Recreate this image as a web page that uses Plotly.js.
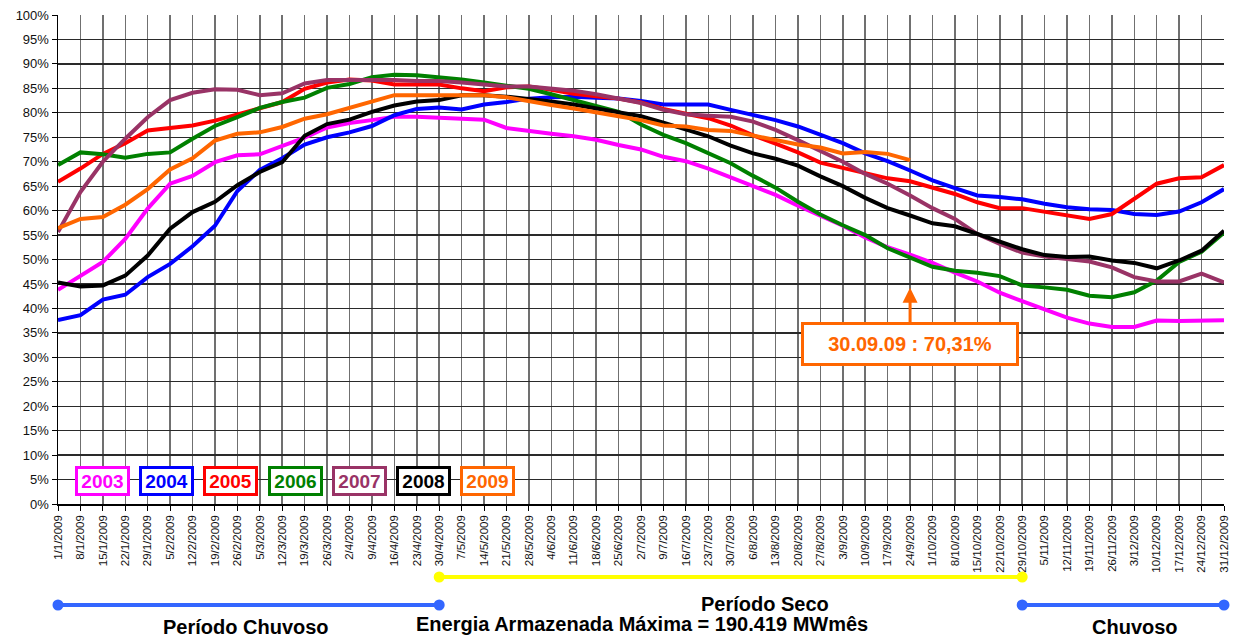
<!DOCTYPE html>
<html>
<head>
<meta charset="utf-8">
<script src="https://cdn.plot.ly/plotly-3.0.1.min.js"></script>
<style>
  html, body { margin: 0; padding: 0; background: #ffffff; }
  #chart { width: 1240px; height: 639px; }
</style>
</head>
<body>
<div id="chart"></div>
<script>
// Weekly dates of 2009 (x categories)
const weeks = [
  '1/1/2009','8/1/2009','15/1/2009','22/1/2009','29/1/2009','5/2/2009','12/2/2009','19/2/2009','26/2/2009',
  '5/3/2009','12/3/2009','19/3/2009','26/3/2009','2/4/2009','9/4/2009','16/4/2009','23/4/2009','30/4/2009',
  '7/5/2009','14/5/2009','21/5/2009','28/5/2009','4/6/2009','11/6/2009','18/6/2009','25/6/2009','2/7/2009',
  '9/7/2009','16/7/2009','23/7/2009','30/7/2009','6/8/2009','13/8/2009','20/8/2009','27/8/2009','3/9/2009',
  '10/9/2009','17/9/2009','24/9/2009','1/10/2009','8/10/2009','15/10/2009','22/10/2009','29/10/2009','5/11/2009',
  '12/11/2009','19/11/2009','26/11/2009','3/12/2009','10/12/2009','17/12/2009','24/12/2009','31/12/2009'
];

// Stored energy (% of maximum) per year
const y2003 = [43.8,46.7,49.5,54.2,60.4,65.5,67.1,69.9,71.3,71.5,73.3,74.9,77.0,77.9,78.5,79.2,79.2,79.0,78.8,78.6,
  76.9,76.2,75.7,75.2,74.5,73.4,72.5,71.0,70.1,68.6,66.8,65.1,63.2,61.0,59.0,56.9,54.5,52.5,51.0,49.3,
  47.3,45.5,43.2,41.5,39.9,38.1,36.9,36.2,36.2,37.5,37.4,37.4,37.6];
const y2004 = [37.6,38.6,41.8,42.8,46.4,49.1,52.7,56.9,64.0,68.3,70.7,73.5,75.0,76.0,77.3,79.5,80.8,81.1,80.7,81.7,
  82.2,82.9,83.2,83.3,83.1,82.9,82.4,81.7,81.7,81.7,80.6,79.6,78.5,77.2,75.6,73.8,71.7,70.1,68.2,66.2,
  64.6,63.1,62.8,62.3,61.4,60.7,60.3,60.1,59.3,59.1,59.8,61.7,64.4];
const y2005 = [65.9,68.6,71.6,73.8,76.4,77.0,77.4,78.4,79.6,81.0,82.2,84.9,86.2,86.8,86.6,85.8,85.7,85.8,85.0,84.4,
  85.2,85.4,84.7,83.9,83.4,82.9,82.1,80.8,79.8,78.9,77.4,75.4,73.7,71.9,69.8,68.7,67.7,66.6,66.0,64.7,
  63.4,61.7,60.5,60.5,59.8,59.0,58.3,59.3,62.4,65.5,66.6,66.8,69.3];
const y2006 = [69.3,71.9,71.5,70.8,71.6,71.9,74.7,77.3,79.1,81.0,82.2,83.1,85.1,85.9,87.3,87.8,87.7,87.3,86.8,86.2,
  85.5,84.9,83.8,82.6,81.2,80.2,77.6,75.5,73.8,71.7,69.7,67.1,64.7,61.8,59.2,57.0,55.0,52.3,50.4,48.5,
  47.7,47.3,46.6,44.7,44.3,43.8,42.6,42.3,43.3,45.7,49.5,51.6,55.5];
const y2007 = [55.6,63.8,70.0,74.7,79.1,82.6,84.1,84.8,84.7,83.6,84.0,86.0,86.7,86.7,86.9,86.7,86.5,86.5,86.2,85.7,
  85.4,85.4,85.0,84.5,83.8,83.0,82.0,80.6,79.7,79.4,79.2,78.2,76.5,74.4,72.3,70.0,67.5,65.5,63.1,60.5,
  58.3,55.2,53.2,51.4,50.6,50.1,49.6,48.4,46.4,45.5,45.5,47.1,45.3];
const y2008 = [45.3,44.5,44.7,46.7,50.8,56.3,59.7,61.8,65.2,67.9,69.9,75.3,77.7,78.6,80.2,81.5,82.3,82.6,83.6,83.6,
  83.3,82.9,82.3,81.7,80.9,80.1,79.3,78.0,76.7,75.2,73.3,71.7,70.6,69.2,67.0,65.0,62.6,60.5,59.0,57.4,
  56.8,55.2,53.6,52.1,50.9,50.5,50.6,49.8,49.3,48.2,49.8,51.8,55.9];
const y2009 = [56.4,58.3,58.7,61.2,64.4,68.4,70.7,74.3,75.7,76.0,77.1,78.8,79.7,81.0,82.3,83.6,83.6,83.6,83.8,83.6,
  83.2,82.3,81.6,80.9,80.2,79.3,78.5,77.4,77.2,76.5,76.3,75.4,74.3,73.5,72.9,71.7,72.0,71.6,70.31];

const years  = ['2003','2004','2005','2006','2007','2008','2009'];
const values = [y2003, y2004, y2005, y2006, y2007, y2008, y2009];
const colors = ['#ff00ff','#0000ff','#ff0000','#008000','#993366','#000000','#ff6600'];

// Season bands below the axis (start / end week)
const dryStart = '30/4/2009';
const dryEnd   = '29/10/2009';
const lastLabel = '30.09.09 : 70,31%';

const FONT = 'Liberation Sans, Arial, Helvetica, sans-serif';

const traces = years.map((yr, k) => ({
  type: 'scatter',
  mode: 'lines',
  name: yr,
  x: weeks.slice(0, values[k].length),
  y: values[k],
  line: { color: colors[k], width: 4 },
  hoverinfo: 'x+y+name'
}));

// Plot-area geometry helpers (pixels -> paper fractions)
const M = { l: 58, r: 16, t: 15, b: 135 };
const PW = 1240 - M.l - M.r;
const PH = 639 - M.t - M.b;
const px = v => (v - M.l) / PW;
const py = v => (639 - M.b - v) / PH;

const iDryStart = weeks.indexOf(dryStart);
const iDryEnd = weeks.indexOf(dryEnd);
const iLast = weeks.length - 1;
// category index -> paper fraction (x range is [0, iLast])
const cx = i => i / iLast;

function seg(i0, i1, yPix, color) {
  const yp = py(yPix);
  const dot = i => ({
    type: 'circle', xref: 'paper', yref: 'paper',
    xsizemode: 'pixel', ysizemode: 'pixel',
    xanchor: cx(i), yanchor: yp,
    x0: -5.5, x1: 5.5, y0: -5.5, y1: 5.5,
    fillcolor: color, line: { width: 0 }
  });
  return [
    { type: 'line', xref: 'paper', yref: 'paper', x0: cx(i0), x1: cx(i1), y0: yp, y1: yp,
      line: { color: color, width: 4 } },
    dot(i0), dot(i1)
  ];
}

const shapes = [].concat(
  seg(iDryStart, iDryEnd, 577, '#ffff00'),
  seg(0, iDryStart, 605, '#3366ff'),
  seg(iDryEnd, iLast, 605, '#3366ff')
);

// Boxed year labels
const legendAnn = years.map((yr, k) => ({
  xref: 'paper', yref: 'paper',
  x: px(102.5 + 64.2 * k), y: py(481),
  xanchor: 'center', yanchor: 'middle',
  text: '<b>' + yr + '</b>',
  showarrow: false,
  font: { family: FONT, size: 19, color: colors[k] },
  bgcolor: '#ffffff',
  bordercolor: colors[k], borderwidth: 3, borderpad: 1,
  width: 47, height: 22
}));

const textAnn = [
  { x: px(765), y: py(604), text: '<b>Período Seco</b>' },
  { x: px(642), y: py(624), text: '<b>Energia Armazenada Máxima = 190.419 MWmês</b>' },
  { x: px(246), y: py(627), text: '<b>Período Chuvoso</b>' },
  { x: px(1135), y: py(627), text: '<b>Chuvoso</b>' }
].map(a => Object.assign({
  xref: 'paper', yref: 'paper', xanchor: 'center', yanchor: 'middle',
  showarrow: false, font: { family: FONT, size: 20, color: '#000000' }
}, a));

const calloutAnn = {
  xref: 'x', yref: 'y',
  x: y2009.length - 1, y: 44.2,
  ax: 0, ay: 56,
  text: '<b>' + lastLabel + '</b>',
  showarrow: true, arrowhead: 2, arrowsize: 1, arrowwidth: 3, arrowcolor: '#ff6600',
  font: { family: FONT, size: 20, color: '#ff6600' },
  bgcolor: '#ffffff', bordercolor: '#ff6600', borderwidth: 3, borderpad: 2,
  width: 208, height: 34
};

const layout = {
  width: 1240, height: 639,
  margin: M,
  paper_bgcolor: '#ffffff',
  plot_bgcolor: '#ffffff',
  showlegend: false,
  font: { family: FONT, color: '#000000' },
  xaxis: {
    type: 'category',
    categoryorder: 'array', categoryarray: weeks,
    range: [0, iLast],
    showgrid: true, gridcolor: '#707070', gridwidth: 1.5,
    showline: true, linecolor: '#000000', linewidth: 1.5,
    ticks: 'outside', ticklen: 5, tickcolor: '#000000', tickwidth: 1,
    tickangle: -90,
    tickfont: { family: FONT, size: 11.5, color: '#111111' },
    zeroline: false, fixedrange: true
  },
  yaxis: {
    range: [0, 100], dtick: 5, tick0: 0,
    ticksuffix: '%',
    showgrid: true, gridcolor: '#2a2a2a', gridwidth: 1.3,
    showline: true, linecolor: '#000000', linewidth: 1.5,
    ticks: 'outside', ticklen: 5, tickcolor: '#000000', tickwidth: 1,
    tickfont: { family: FONT, size: 13, color: '#111111' },
    zeroline: false, fixedrange: true
  },
  shapes: shapes,
  annotations: legendAnn.concat(textAnn, [calloutAnn])
};

Plotly.newPlot('chart', traces, layout, { displayModeBar: false, staticPlot: true });
</script>
</body>
</html>
